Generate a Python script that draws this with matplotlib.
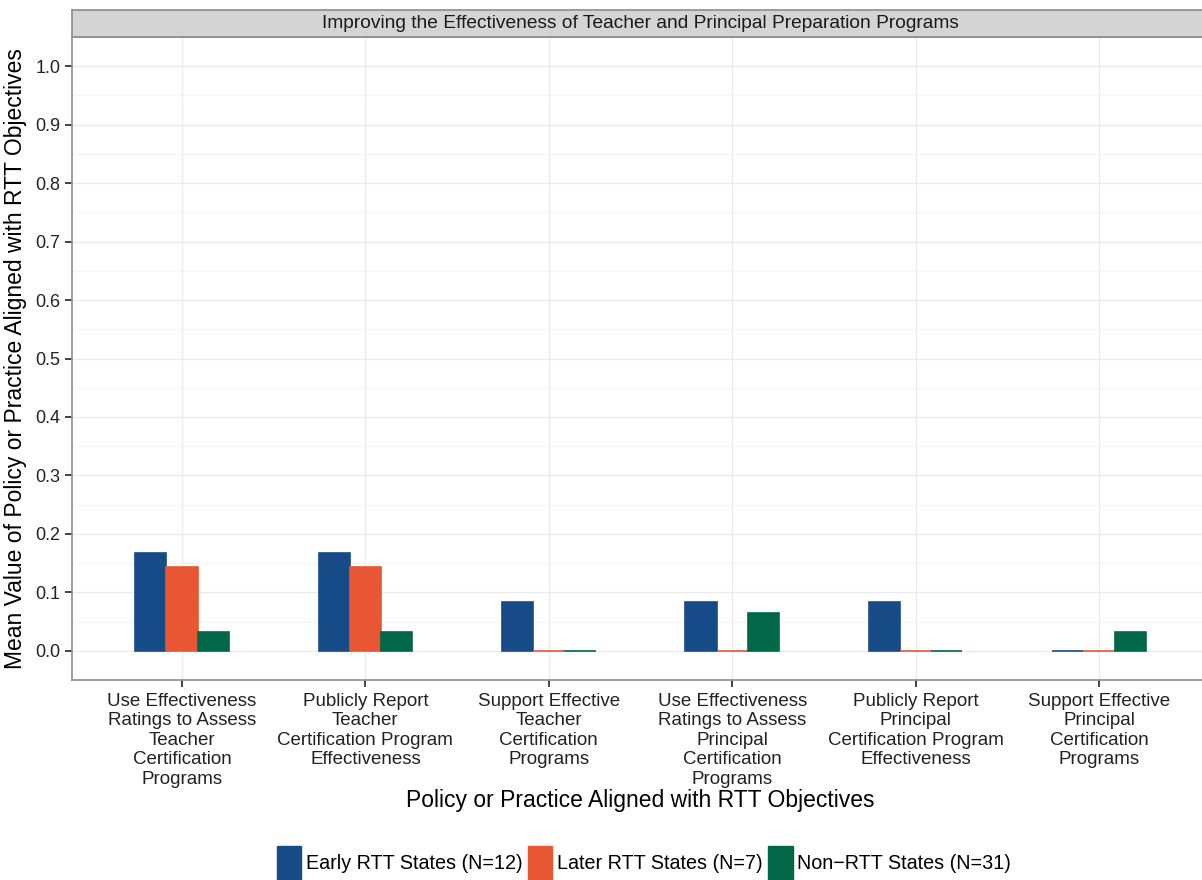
import numpy as np
import matplotlib
matplotlib.use("Agg")
import matplotlib.pyplot as plt
from matplotlib.patches import Patch

plt.rcParams['font.family'] = ['Liberation Sans', 'DejaVu Sans']

categories = [
    "Use Effectiveness\nRatings to Assess\nTeacher\nCertification\nPrograms",
    "Publicly Report\nTeacher\nCertification Program\nEffectiveness",
    "Support Effective\nTeacher\nCertification\nPrograms",
    "Use Effectiveness\nRatings to Assess\nPrincipal\nCertification\nPrograms",
    "Publicly Report\nPrincipal\nCertification Program\nEffectiveness",
    "Support Effective\nPrincipal\nCertification\nPrograms",
]
series_names = ["Early RTT States (N=12)", "Later RTT States (N=7)", "Non\u2212RTT States (N=31)"]
early = [2/12, 2/12, 1/12, 1/12, 1/12, 0.0]
later = [1/7, 1/7, 0.0, 0.0, 0.0, 0.0]
non_rtt = [1/31, 1/31, 0.0, 2/31, 0.0, 1/31]
colors = ["#174B88", "#E85634", "#006849"]

W, H = 1202, 880
fig = plt.figure(figsize=(W / 100, H / 100), dpi=100)
# panel in pixel coords
left, right, top, bottom = 72, 1209, 37, 680
ax = fig.add_axes([left / W, 1 - bottom / H, (right - left) / W, (bottom - top) / H])

x = np.arange(1, len(categories) + 1)
bw = 0.17
for i, (vals, c) in enumerate(zip([early, later, non_rtt], colors)):
    ax.bar(x + (i - 1) * bw, vals, width=bw, color=c, edgecolor=c, linewidth=1.2, zorder=3)

ax.set_xlim(0.4, 6.6)
ax.set_ylim(-0.05, 1.05)
ax.set_yticks(np.arange(0, 1.01, 0.1))
ax.set_yticklabels([f"{v:.1f}" for v in np.arange(0, 1.01, 0.1)], fontsize=13, color="#222222")
ax.set_yticks(np.arange(-0.05, 1.06, 0.1), minor=True)
ax.set_xticks(x)
ax.set_xticklabels(categories, fontsize=13.5, color="#222222", linespacing=1.2)
ax.tick_params(axis="both", which="major", length=5, width=1.3, color="#333333")
ax.tick_params(axis="x", which="major", pad=4)
ax.tick_params(axis="y", which="minor", length=0)
ax.grid(True, which="major", color="#ebebeb", linewidth=1.0, zorder=0)
ax.grid(True, which="minor", axis="y", color="#f5f5f5", linewidth=0.8, zorder=0)
for s in ax.spines.values():
    s.set_color("#8c8c8c")
    s.set_linewidth(1.2)

ax.set_xlabel("Policy or Practice Aligned with RTT Objectives", fontsize=16.5, labelpad=1)
ax.set_ylabel("Mean Value of Policy or Practice Aligned with RTT Objectives", fontsize=16.5, labelpad=6)

# facet strip
strip = fig.add_axes([left / W, 1 - top / H, (right - left) / W, 27 / H])
strip.set_facecolor("#d4d4d4")
strip.set_xticks([])
strip.set_yticks([])
for s in strip.spines.values():
    s.set_color("#8c8c8c")
    s.set_linewidth(1.2)
strip.text((640 - left) / (right - left), 0.5,
           "Improving the Effectiveness of Teacher and Principal Preparation Programs",
           ha="center", va="center", fontsize=13.8, color="#1a1a1a", transform=strip.transAxes)

handles = [Patch(facecolor=c, edgecolor=c) for c in colors]
fig.legend(handles, series_names, loc="center", bbox_to_anchor=(644 / W, 1 - 863 / H),
           ncol=3, frameon=False, fontsize=14.2, handlelength=1.25, handleheight=2.2,
           handletextpad=0.25, columnspacing=0.25, borderaxespad=0)

fig.savefig("out.png", dpi=100)
